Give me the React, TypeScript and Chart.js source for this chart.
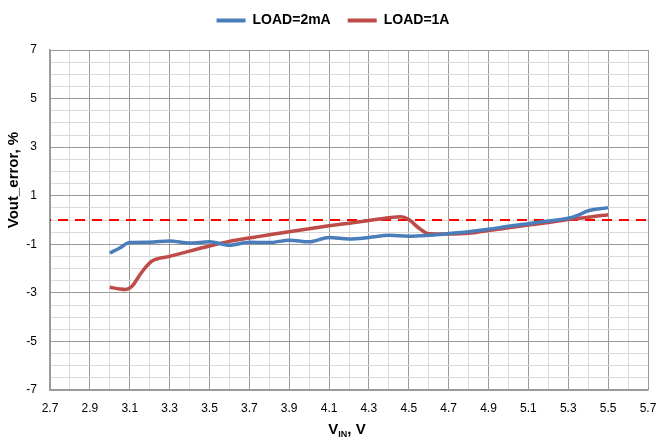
import React, { useEffect, useRef } from "react";
import { Chart, registerables } from "chart.js";

Chart.register(...registerables);

// ---- data ----
const vin2mA = [3.0, 3.05, 3.1, 3.2, 3.3, 3.4, 3.5, 3.6, 3.7, 3.8, 3.9, 4.0, 4.1, 4.2, 4.3, 4.4, 4.5, 4.6, 4.7, 4.8, 4.9, 5.0, 5.1, 5.2, 5.3, 5.35, 5.4, 5.5];
const err2mA = [-1.36, -1.15, -0.93, -0.92, -0.86, -0.95, -0.9, -1.04, -0.92, -0.93, -0.83, -0.9, -0.72, -0.78, -0.72, -0.63, -0.67, -0.63, -0.56, -0.48, -0.38, -0.26, -0.15, -0.04, 0.07, 0.2, 0.38, 0.51];

const vin1A = [3.0, 3.05, 3.08, 3.11, 3.16, 3.21, 3.3, 3.4, 3.5, 3.6, 3.7, 3.8, 3.9, 4.0, 4.1, 4.2, 4.3, 4.4, 4.46, 4.5, 4.55, 4.6, 4.7, 4.8, 4.9, 5.0, 5.1, 5.2, 5.3, 5.4, 5.5];
const err1A = [-2.77, -2.84, -2.86, -2.74, -2.15, -1.7, -1.5, -1.28, -1.07, -0.88, -0.74, -0.61, -0.48, -0.36, -0.24, -0.13, -0.02, 0.09, 0.13, 0.02, -0.33, -0.57, -0.58, -0.55, -0.43, -0.32, -0.21, -0.1, 0.02, 0.11, 0.22];

const refVin = [2.7, 5.7];
const refErr = [0, 0];

const seriesLabels = ["LOAD=2mA", "LOAD=1A"];
const xTitleParts = ["V", "IN", ", V"];
const yTitleText = "Vout_error, %";

const xMin = 2.7;
const xMax = 5.7;
const xStep = 0.1;
const yMin = -7;
const yMax = 7;
const yStep = 0.5;

const FONT = '"Liberation Sans", Arial, sans-serif';

const isMajorX = (v: number) => Math.abs(Math.round(v * 10)) % 2 === 1;
const isMajorY = (v: number) => {
  const r = Math.round(v);
  return Math.abs(v - r) < 1e-6 && Math.abs(r) % 2 === 1;
};

const toPoints = (xs: number[], ys: number[]) => xs.map((x, i) => ({ x, y: ys[i] }));

const legendGap = {
  id: "legendGap",
  beforeLayout(chart: any) {
    const lg = chart.legend;
    if (lg && !lg._gapPatched) {
      const orig = lg.fit.bind(lg);
      lg.fit = function () {
        orig();
        this.height += 12.5;
      };
      lg._gapPatched = true;
    }
  },
  afterLayout(chart: any) {
    const lg = chart.legend;
    if (lg) {
      lg.left += 9;
      lg.right += 9;
    }
  },
};

const axisTitles = {
  id: "axisTitles",
  afterDraw(chart: any) {
    const { ctx, chartArea } = chart;
    ctx.save();
    ctx.fillStyle = "#000";
    ctx.font = `bold 15px ${FONT}`;
    ctx.textAlign = "center";
    ctx.textBaseline = "middle";
    ctx.translate(14, chartArea.top + 130);
    ctx.rotate(-Math.PI / 2);
    ctx.fillText(yTitleText, 0, 0);
    ctx.restore();

    ctx.save();
    ctx.fillStyle = "#000";
    ctx.textBaseline = "alphabetic";
    ctx.textAlign = "left";
    const mainFont = `bold 15px ${FONT}`;
    const subFont = `bold 9px ${FONT}`;
    ctx.font = mainFont;
    const w1 = ctx.measureText(xTitleParts[0]).width;
    const w3 = ctx.measureText(xTitleParts[2]).width;
    ctx.font = subFont;
    const w2 = ctx.measureText(xTitleParts[1]).width;
    const total = w1 + w2 + w3;
    let x = 347 - total / 2;
    const base = chartArea.bottom + 44;
    ctx.font = mainFont;
    ctx.fillText(xTitleParts[0], x, base);
    x += w1;
    ctx.font = subFont;
    ctx.fillText(xTitleParts[1], x, base + 3);
    x += w2;
    ctx.font = mainFont;
    ctx.fillText(xTitleParts[2], x, base);
    ctx.restore();
  },
};

export default function App() {
  const canvasRef = useRef<HTMLCanvasElement | null>(null);

  useEffect(() => {
    if (!canvasRef.current) return;
    const chart = new Chart(canvasRef.current, {
      type: "line",
      data: {
        datasets: [
          {
            label: seriesLabels[0],
            data: toPoints(vin2mA, err2mA),
            borderColor: "#4a7ebb",
            backgroundColor: "#4a7ebb",
            borderWidth: 3.5,
            pointRadius: 0,
            cubicInterpolationMode: "monotone",
          },
          {
            label: seriesLabels[1],
            data: toPoints(vin1A, err1A),
            borderColor: "#be4b48",
            backgroundColor: "#be4b48",
            borderWidth: 3.5,
            pointRadius: 0,
            cubicInterpolationMode: "monotone",
          },
          {
            label: "ref",
            data: toPoints(refVin, refErr),
            borderColor: "#ff0000",
            backgroundColor: "#ff0000",
            borderWidth: 2,
            borderDash: [10, 7],
            borderDashOffset: 9,
            pointRadius: 0,
          },
        ],
      },
      options: {
        animation: false,
        responsive: true,
        maintainAspectRatio: false,
        layout: { padding: { left: 0, right: 8, top: -3.5, bottom: 0 } },
        plugins: {
          tooltip: { enabled: false },
          legend: {
            display: true,
            position: "top",
            labels: {
              boxWidth: 29,
              boxHeight: 4,
              padding: 17,
              color: "#000",
              font: { family: FONT, size: 14, weight: "bold" },
              filter: (item: any) => item.datasetIndex < 2,
              generateLabels: (c: any) =>
                Chart.defaults.plugins.legend.labels
                  .generateLabels(c)
                  .map((l: any) => ({ ...l, lineWidth: 0 })),
            },
          },
        },
        scales: {
          x: {
            type: "linear",
            min: xMin,
            max: xMax,
            afterFit: (s: any) => {
              s.height = 48;
              s.paddingLeft = 0;
              s.paddingRight = 0;
            },
            ticks: {
              stepSize: xStep,
              autoSkip: false,
              maxRotation: 0,
              padding: 11,
              color: "#000",
              font: { family: FONT, size: 12 },
              callback: (v: any) => (isMajorX(Number(v)) ? Number(v).toFixed(1) : ""),
            },
            grid: {
              drawTicks: false,
              color: (c: any) => (isMajorX(c.tick.value) ? "#9a9a9a" : "#d9d9d9"),
            },
            border: { display: true, color: "#9a9a9a", width: 1.5 },
          },
          y: {
            type: "linear",
            min: yMin,
            max: yMax,
            afterFit: (s: any) => {
              s.width = 50;
              s.paddingTop = 0;
              s.paddingBottom = 0;
            },
            ticks: {
              stepSize: yStep,
              autoSkip: false,
              padding: 13,
              color: "#000",
              font: { family: FONT, size: 12 },
              callback: (v: any) => (isMajorY(Number(v)) ? String(Math.round(Number(v))) : ""),
            },
            grid: {
              drawTicks: false,
              color: (c: any) => (isMajorY(c.tick.value) ? "#9a9a9a" : "#d9d9d9"),
            },
            border: { display: true, color: "#9a9a9a", width: 1.5 },
          },
        },
      },
      plugins: [legendGap, axisTitles],
    } as any);
    return () => chart.destroy();
  }, []);

  return (
    <div style={{ position: "absolute", left: 0, top: 0, width: 656, height: 438, background: "#fff" }}>
      <canvas ref={canvasRef} />
    </div>
  );
}
